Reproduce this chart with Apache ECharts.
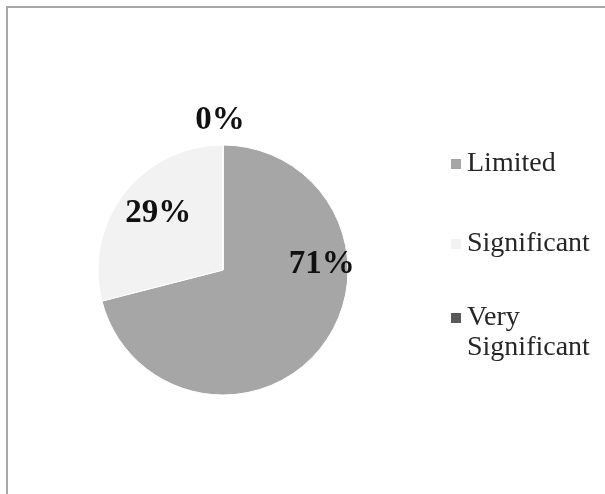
<!DOCTYPE html>
<html>
<head>
<meta charset="utf-8">
<script src="https://cdn.jsdelivr.net/npm/echarts@6/dist/echarts.min.js"></script>
<style>
  html, body { margin: 0; padding: 0; background: #fff; }
  #chart { position: absolute; left: 0; top: 0; width: 605px; height: 494px; }
  #frame { position: absolute; left: 6px; top: 6px; width: 610px; height: 500px;
           border-left: 2px solid #a8a8a8; border-top: 2px solid #a8a8a8; pointer-events: none; }
</style>
</head>
<body>
<div id="chart"></div>
<div id="frame"></div>
<script>
// ---- data ----
const categories = ['Limited', 'Significant', 'Very Significant'];
const percentValues = [71, 29, 0];

// ---- styles ----
const sliceColors = ['#a6a6a6', '#f2f2f2', '#595959'];
const labelShift = [[47, -46], [-13, -16], [-3, -84]];
const serif = '"Liberation Serif", "Times New Roman", serif';

const chart = echarts.init(document.getElementById('chart'), null, { renderer: 'canvas' });

const legendText = {
  fontFamily: serif, fontSize: 28, color: '#262626', lineHeight: 30
};

chart.setOption({
  animation: false,
  backgroundColor: '#ffffff',
  color: sliceColors,
  legend: [
    {
      orient: 'vertical',
      left: 444, top: 144,
      itemWidth: 12, itemHeight: 12, itemGap: 50,
      icon: 'rect',
      selectedMode: false,
      textStyle: legendText,
      data: categories.slice(0, 2)
    },
    {
      orient: 'vertical',
      left: 444, top: 268,
      itemWidth: 12, itemHeight: 12,
      icon: 'rect',
      selectedMode: false,
      textStyle: legendText,
      // blank first line keeps the icon level with "Very"
      formatter: function (name) { return '\n' + name.replace(' ', '\n'); },
      data: categories.slice(2)
    }
  ],
  series: [{
    type: 'pie',
    center: [223, 270],
    radius: 125,
    startAngle: 90,
    clockwise: true,
    silent: true,
    itemStyle: { borderColor: '#ffffff', borderWidth: 1 },
    label: {
      show: true,
      position: 'inside',
      formatter: '{c}%',
      fontFamily: serif,
      fontSize: 33,
      fontWeight: 'bold',
      color: '#111111'
    },
    labelLine: { show: false },
    labelLayout: function (p) {
      const s = labelShift[p.dataIndex];
      return { dx: s[0], dy: s[1] };
    },
    data: categories.map(function (c, i) {
      return { name: c, value: percentValues[i] };
    })
  }]
});
</script>
</body>
</html>
